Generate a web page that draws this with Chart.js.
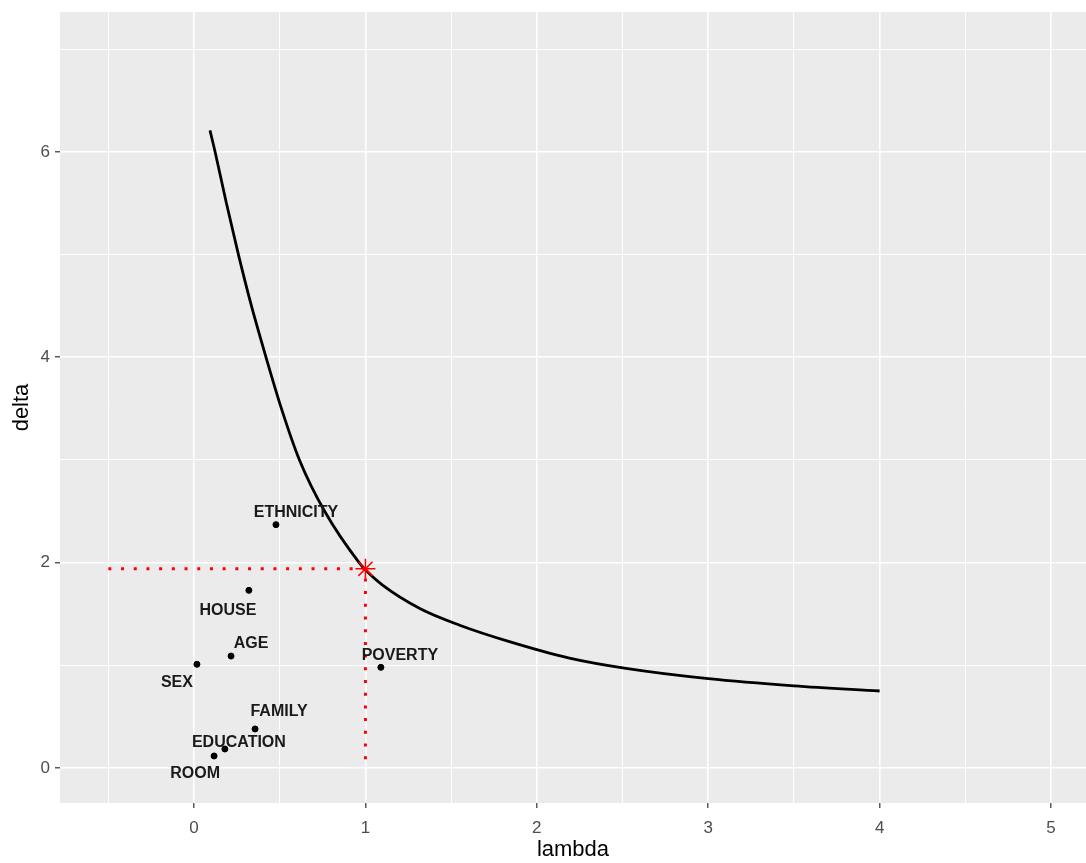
<!DOCTYPE html>
<html>
<head>
<meta charset="utf-8">
<script src="https://cdn.jsdelivr.net/npm/chart.js@4.4.1/dist/chart.umd.min.js"></script>
<style>
  html, body { margin: 0; padding: 0; background: #fff; }
  #wrap { width: 1086px; height: 863px; position: relative; }
</style>
</head>
<body>
<div id="wrap"><canvas id="deltaChart"></canvas></div>
<script>
// curve
const curveLambda = [0.093, 0.123, 0.189, 0.259, 0.335, 0.42, 0.51, 0.615, 0.762, 0.963, 1.0, 1.10, 1.32, 1.55, 1.84, 2.19, 2.52, 3.0, 3.5, 4.0];
const curveDelta  = [6.21, 6.00, 5.50, 5.00, 4.50, 4.00, 3.50, 3.00, 2.50, 2.00, 1.93, 1.78, 1.55, 1.39, 1.23, 1.07, 0.97, 0.87, 0.80, 0.75];

// variables
const varNames  = ["ETHNICITY", "HOUSE", "AGE", "SEX", "FAMILY", "EDUCATION", "ROOM", "POVERTY"];
const varLambda = [0.478, 0.32, 0.216, 0.017, 0.356, 0.18, 0.117, 1.09];
const varDelta  = [2.37, 1.73, 1.09, 1.01, 0.38, 0.185, 0.117, 0.98];

// chosen point and guide lines
const optLambda = [1.0];
const optDelta  = [1.94];
const guideLambda = [-0.5, 1.0, 1.0];
const guideDelta  = [1.94, 1.94, 0.05];

// ticks
const xTicks = [-0.5, 0, 0.5, 1, 1.5, 2, 2.5, 3, 3.5, 4, 4.5, 5];
const yTicks = [0, 1, 2, 3, 4, 5, 6, 7];
const xLabels = [0, 1, 2, 3, 4, 5];
const yLabels = [0, 2, 4, 6];

const toXY = (xs, ys) => xs.map((x, i) => ({ x: x, y: ys[i] }));

// label offsets in pixels (like ggrepel placement)
const labelOffsets = [[20, -12], [-21, 20], [20, -12], [-20, 18], [24, -17], [14, -6], [-19, 18], [19, -12]];

Chart.defaults.font.family = "'Liberation Sans', Arial, sans-serif";

const panelBg = {
  id: "panelBg",
  beforeDraw(chart) {
    const a = chart.chartArea;
    const ctx = chart.ctx;
    ctx.save();
    ctx.fillStyle = "#EBEBEB";
    ctx.fillRect(a.left, a.top, a.right - a.left, a.bottom - a.top);
    ctx.restore();
  }
};

const pointLabels = {
  id: "pointLabels",
  afterDatasetsDraw(chart) {
    const ctx = chart.ctx;
    const xs = chart.scales.x, ys = chart.scales.y;
    ctx.save();
    ctx.font = "bold 16px 'Liberation Sans', Arial, sans-serif";
    ctx.fillStyle = "#1A1A1A";
    ctx.textAlign = "center";
    ctx.textBaseline = "middle";
    varNames.forEach((name, i) => {
      const px = xs.getPixelForValue(varLambda[i]) + labelOffsets[i][0];
      const py = ys.getPixelForValue(varDelta[i]) + labelOffsets[i][1];
      ctx.fillText(name, px, py);
    });
    ctx.restore();
  }
};

function fixTicks(values) {
  return scale => { scale.ticks = values.map(v => ({ value: v })); };
}

const ctx = document.getElementById("deltaChart").getContext("2d");

new Chart(ctx, {
  type: "scatter",
  data: {
    datasets: [
      {
        label: "guide",
        data: toXY(guideLambda, guideDelta),
        showLine: true,
        borderColor: "#FF0000",
        borderWidth: 3,
        borderDash: [3, 9.7],
        pointRadius: 0,
        order: 4
      },
      {
        label: "curve",
        data: toXY(curveLambda, curveDelta),
        showLine: true,
        borderColor: "#000000",
        borderWidth: 2.8,
        cubicInterpolationMode: "monotone",
        pointRadius: 0,
        order: 3
      },
      {
        label: "variables",
        data: toXY(varLambda, varDelta),
        backgroundColor: "#000000",
        borderColor: "#000000",
        pointRadius: 3,
        order: 2
      },
      {
        label: "optimum",
        data: toXY(optLambda, optDelta),
        pointStyle: "star",
        pointRadius: 10,
        borderColor: "#FF0000",
        borderWidth: 1.5,
        order: 1
      }
    ]
  },
  options: {
    responsive: true,
    maintainAspectRatio: false,
    animation: false,
    layout: { autoPadding: false, padding: { top: 12, right: 0, left: 0, bottom: 0 } },
    plugins: {
      legend: { display: false },
      tooltip: { enabled: false }
    },
    scales: {
      x: {
        type: "linear",
        min: -0.782,
        max: 5.204,
        afterBuildTicks: fixTicks(xTicks),
        afterFit: scale => { scale.height = 60; scale.paddingLeft = 0; scale.paddingRight = 0; },
        border: { display: false },
        grid: {
          color: "#FFFFFF",
          lineWidth: c => (xLabels.includes(c.tick.value) ? 1.6 : 1),
          tickColor: c => (xLabels.includes(c.tick.value) ? "#333333" : "rgba(0,0,0,0)"),
          tickLength: 5,
          tickWidth: 1.2
        },
        ticks: {
          color: "#4D4D4D",
          font: { size: 17 },
          padding: 10,
          maxRotation: 0,
          autoSkip: false,
          callback: v => (xLabels.includes(v) ? String(v) : "")
        },
        title: {
          display: true,
          text: "lambda",
          color: "#000000",
          font: { size: 22 },
          padding: { top: 0, bottom: 0 }
        }
      },
      y: {
        type: "linear",
        min: -0.341,
        max: 7.363,
        afterBuildTicks: fixTicks(yTicks),
        afterFit: scale => { scale.width = 60; scale.paddingTop = 0; scale.paddingBottom = 0; },
        border: { display: false },
        grid: {
          color: "#FFFFFF",
          lineWidth: c => (yLabels.includes(c.tick.value) ? 1.6 : 1),
          tickColor: c => (yLabels.includes(c.tick.value) ? "#333333" : "rgba(0,0,0,0)"),
          tickLength: 5,
          tickWidth: 1.2
        },
        ticks: {
          color: "#4D4D4D",
          font: { size: 17 },
          padding: 5,
          autoSkip: false,
          callback: v => (yLabels.includes(v) ? String(v) : "")
        },
        title: {
          display: true,
          text: "delta",
          color: "#000000",
          font: { size: 22 },
          padding: { top: 9, bottom: 0 }
        }
      }
    }
  },
  plugins: [panelBg, pointLabels]
});
</script>
</body>
</html>
